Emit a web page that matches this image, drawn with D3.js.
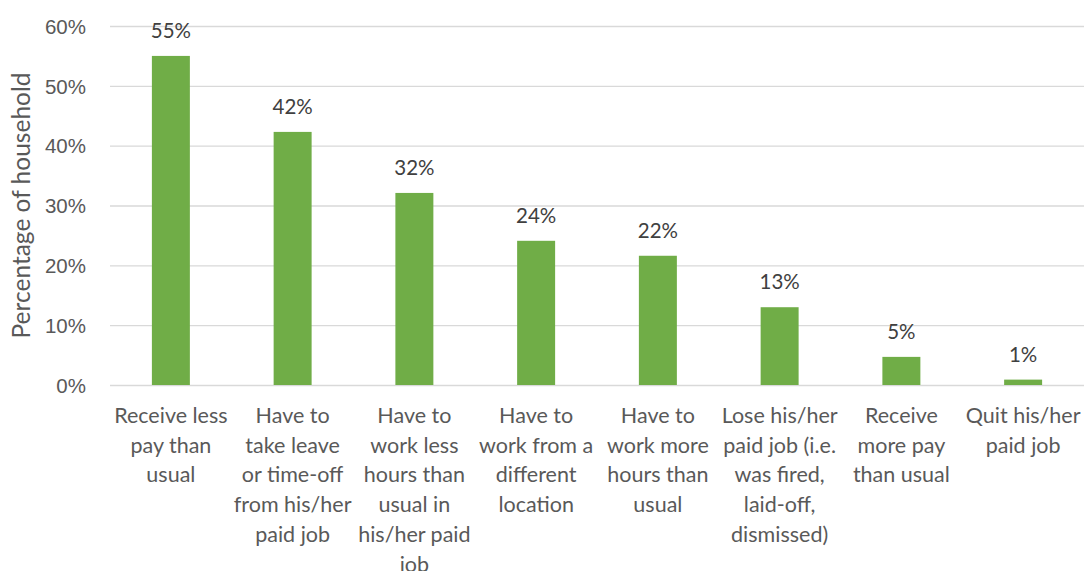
<!DOCTYPE html>
<html>
<head>
<meta charset="utf-8">
<script src="https://cdn.jsdelivr.net/npm/d3@7"></script>
<style>
  html, body { margin: 0; padding: 0; background: #ffffff; }
  svg { display: block; font-family: Lato, "Open Sans", sans-serif; }
</style>
</head>
<body>
<svg id="chart" width="1091" height="571"></svg>
<script>
// Categories, each label split into its display lines
const categories = [
  "Receive less|pay than|usual",
  "Have to|take leave|or time-off|from his/her|paid job",
  "Have to|work less|hours than|usual in|his/her paid|job",
  "Have to|work from a|different|location",
  "Have to|work more|hours than|usual",
  "Lose his/her|paid job (i.e.|was fired,|laid-off,|dismissed)",
  "Receive|more pay|than usual",
  "Quit his/her|paid job"
];
// Share of households (fraction)
const values = [0.55, 0.423, 0.321, 0.241, 0.216, 0.13, 0.047, 0.009];
// Printed value labels
const valueLabels = ["55%", "42%", "32%", "24%", "22%", "13%", "5%", "1%"];
// Y axis ticks
const yTicks = [0, 0.1, 0.2, 0.3, 0.4, 0.5, 0.6];
const yTitle = "Percentage of household";

const svg = d3.select("#chart");
const margin = { top: 26, right: 7, bottom: 186, left: 110 };
const W = 1091, H = 571;
const innerW = W - margin.left - margin.right;
const innerH = H - margin.top - margin.bottom;

const g = svg.append("g").attr("transform", `translate(${margin.left},${margin.top})`);

const x = d3.scaleBand()
  .domain(categories)
  .range([0, innerW])
  .paddingInner(0.688)
  .paddingOuter(0.344);

const y = d3.scaleLinear().domain([0, 0.6]).range([innerH, 0]);

// Horizontal gridlines with percentage tick labels
const yAxis = g.append("g")
  .call(d3.axisLeft(y).tickValues(yTicks).tickFormat(d3.format(".0%")).tickSize(-innerW).tickPadding(24));
yAxis.select(".domain").remove();
yAxis.selectAll(".tick line").attr("stroke", "#d9d9d9").attr("stroke-width", 1.3);
yAxis.selectAll(".tick text")
  .attr("fill", "#595959")
  .attr("font-size", 20.5)
  .attr("dy", "0.35em");

// Bars
g.selectAll("rect.bar")
  .data(values)
  .join("rect")
  .attr("class", "bar")
  .attr("x", (d, i) => x(categories[i]))
  .attr("width", x.bandwidth())
  .attr("y", d => y(d))
  .attr("height", d => innerH - y(d))
  .attr("fill", "#70ad47");

// Value labels above bars
g.selectAll("text.val")
  .data(values)
  .join("text")
  .attr("class", "val")
  .attr("x", (d, i) => x(categories[i]) + x.bandwidth() / 2)
  .attr("y", d => y(d) - 18)
  .attr("text-anchor", "middle")
  .attr("fill", "#404040")
  .attr("font-size", 20.5)
  .text((d, i) => valueLabels[i]);

// Category labels, multi-line
const cat = g.selectAll("text.cat")
  .data(categories)
  .join("text")
  .attr("class", "cat")
  .attr("text-anchor", "middle")
  .attr("fill", "#595959")
  .attr("font-size", 21.5)
  .attr("transform", d => `translate(${x(d) + x.bandwidth() / 2},${innerH + 38})`);
cat.selectAll("tspan")
  .data(d => d.split("|"))
  .join("tspan")
  .attr("x", 0)
  .attr("y", (d, i) => i * 29.7)
  .text(d => d);

// Y axis title
svg.append("text")
  .attr("transform", `translate(30,${margin.top + innerH / 2}) rotate(-90)`)
  .attr("text-anchor", "middle")
  .attr("fill", "#595959")
  .attr("font-size", 24.5)
  .text(yTitle);
</script>
</body>
</html>
